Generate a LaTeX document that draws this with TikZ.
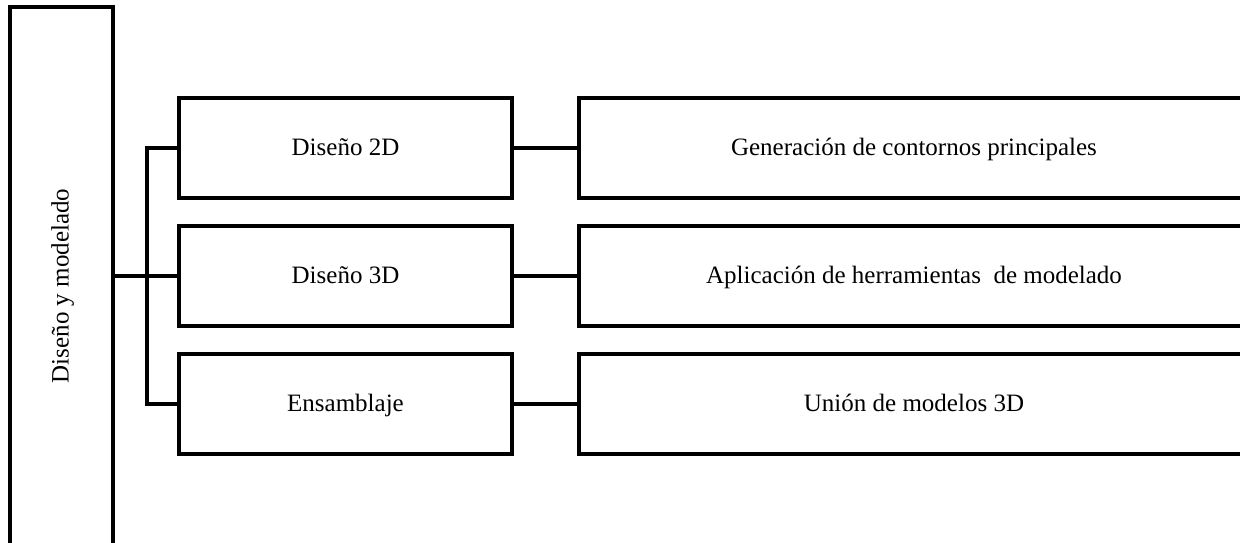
\documentclass[tikz,border=0pt]{standalone}
\usepackage{fontspec}
\setmainfont{Liberation Serif}
\tikzset{
  box/.style={draw, line width=4pt, rectangle, inner sep=0pt, minimum height=100.5pt,
    text height=17pt, text depth=3pt},
  link/.style={line width=4pt}
}
\begin{document}
\begin{tikzpicture}[x=1pt,y=-1pt,font=\fontsize{25}{30}\selectfont]
        \useasboundingbox (0,0) rectangle (1240,542);
        \clip (0,0) rectangle (1240,542);
        \node[box, rotate=90, minimum width=558pt, minimum height=103pt] at (61.5,286) (main) {Diseño y modelado};
        \node[box, minimum width=333pt] at (345.5,148) (d2) {Diseño 2D};
        \node[box, minimum width=333pt] at (345.5,276) (d3) {Diseño 3D};
        \node[box, minimum width=333pt] at (345.5,404) (ens) {Ensamblaje};
        \node[box, minimum width=670pt] at (914,148) (cont) {Generación de contornos principales};
        \node[box, minimum width=670pt] at (914,276) (herr) {Aplicación de herramientas~ de modelado};
        \node[box, minimum width=670pt] at (914,404) (union) {Unión de modelos 3D};
        \coordinate (bus) at (147,276);
        \draw[link] (d3.west -| main.south) -- (d3.west);
        \draw[link] (d2.west) -- (d2.west -| bus) -- (ens.west -| bus) -- (ens.west);
        \draw[link] (d2.east) -- (cont.west);
        \draw[link] (d3.east) -- (herr.west);
        \draw[link] (ens.east) -- (union.west);
      \end{tikzpicture}
\end{document}
